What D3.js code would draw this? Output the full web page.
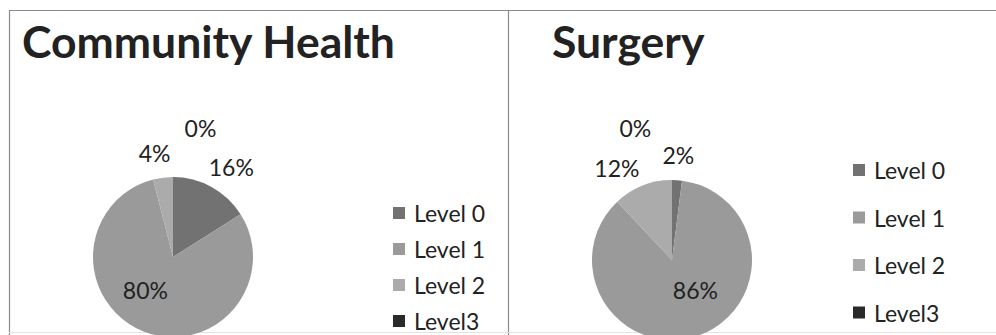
<!DOCTYPE html>
<html><head><meta charset="utf-8">
<script src="https://cdn.jsdelivr.net/npm/d3@7"></script>
<style>
html,body{margin:0;padding:0;background:#fff;}
svg{display:block;}
text{font-family:Lato,"Open Sans",sans-serif;fill:#222;}
</style></head><body>
<svg id="c" width="996" height="335"></svg>
<script>
const categories = ["Level 0", "Level 1", "Level 2", "Level3"];
const communityValues = [16, 80, 4, 0];
const surgeryValues = [2, 86, 12, 0];
const chartTitles = ["Community Health", "Surgery"];
const colors = ["#727272", "#9a9a9a", "#ababab", "#2a2a2a"];

const svg = d3.select("#c");

// panel frame lines
const frame = svg.append("g").attr("stroke", "#8a8a8a").attr("stroke-width", 1.2).attr("fill", "none");
frame.append("line").attr("x1", 9).attr("x2", 996).attr("y1", 10.5).attr("y2", 10.5);
frame.append("line").attr("x1", 9.5).attr("x2", 9.5).attr("y1", 10).attr("y2", 335);
frame.append("line").attr("x1", 508.5).attr("x2", 508.5).attr("y1", 10).attr("y2", 335);
svg.append("line").attr("x1", 9).attr("x2", 996).attr("y1", 332.5).attr("y2", 332.5)
  .attr("stroke", "#e2e2e2").attr("stroke-width", 1);

const panels = [
  {title: chartTitles[0], values: communityValues, tx: 22, cx: 173, cy: 257, r: 80,
   legendX: 393, legendY0: 213, legendStep: 36,
   // label placement: [angle deg (clockwise from 12), distance px]
   labelPolar: [[33, 107], [220, 43], [350, 106], [12, 132]]},
  {title: chartTitles[1], values: surgeryValues, tx: 552, cx: 672, cy: 260, r: 80,
   legendX: 853, legendY0: 170, legendStep: 47.5,
   labelPolar: [[3.5, 105], [142, 38], [329, 107], [344.5, 137]]}
];

panels.forEach(p => {
  const g = svg.append("g");
  g.append("text").attr("x", p.tx).attr("y", 58)
    .attr("font-size", 44.5).attr("font-weight", 700).attr("fill", "#1a1a1a").text(p.title);

  const pie = d3.pie().sort(null).value(d => d)(p.values);
  const arc = d3.arc().innerRadius(0).outerRadius(p.r);
  const pg = g.append("g").attr("transform", `translate(${p.cx},${p.cy})`);
  pg.selectAll("path").data(pie).join("path")
    .attr("d", arc).attr("fill", (d, i) => colors[i]);

  pg.selectAll("text.lbl").data(pie).join("text")
    .attr("class", "lbl")
    .attr("x", (d, i) => Math.sin(p.labelPolar[i][0] * Math.PI / 180) * p.labelPolar[i][1])
    .attr("y", (d, i) => -Math.cos(p.labelPolar[i][0] * Math.PI / 180) * p.labelPolar[i][1])
    .attr("text-anchor", "middle").attr("dominant-baseline", "central")
    .attr("font-size", 23)
    .attr("fill", (d, i) => i === 1 ? "#444" : "#1e1e1e")
    .text(d => d3.format(".0f")(d.data / d3.sum(p.values) * 100) + "%");

  const lg = g.append("g");
  const items = lg.selectAll("g").data(categories).join("g")
    .attr("transform", (d, i) => `translate(${p.legendX},${p.legendY0 + i * p.legendStep})`);
  items.append("rect").attr("x", 0).attr("y", -6).attr("width", 12).attr("height", 12)
    .attr("fill", (d, i) => colors[i]);
  items.append("text").attr("x", 21).attr("y", 0).attr("dominant-baseline", "central")
    .attr("font-size", 23).attr("fill", "#1e1e1e").text(d => d);
});
</script>
</body></html>
